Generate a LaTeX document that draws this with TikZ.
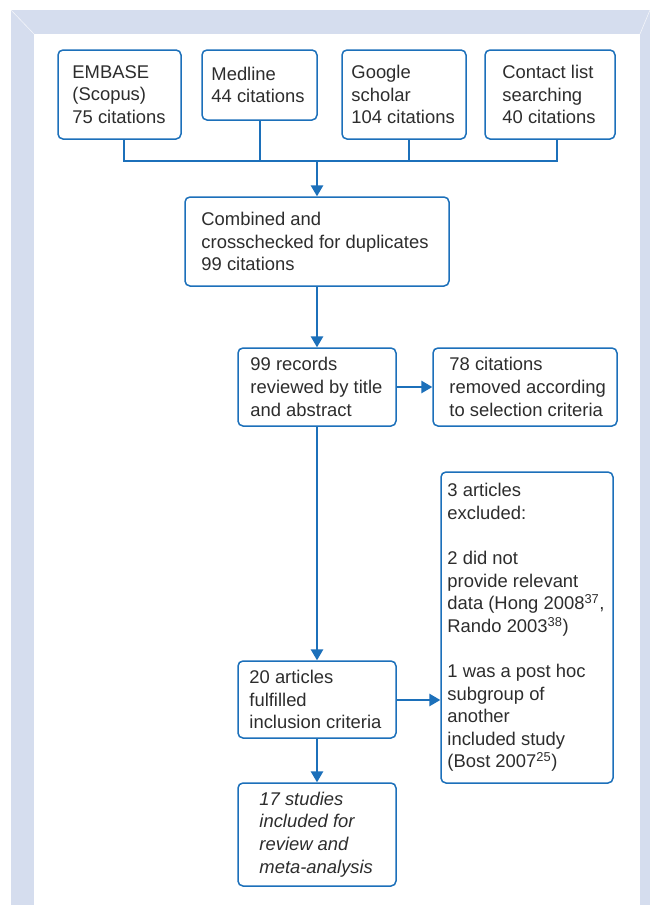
\documentclass[tikz,border=0pt]{standalone}
\usepackage{fontspec}
\setmainfont{Liberation Sans}
\usetikzlibrary{arrows.meta,calc}
\definecolor{lineblue}{RGB}{28,112,186}
\definecolor{framebg}{RGB}{213,221,238}
\definecolor{txt}{RGB}{45,45,45}
\begin{document}
\begin{tikzpicture}[x=1pt,y=-1pt,
  box/.style={draw=lineblue,line width=1.5pt,rounded corners=5pt,fill=white,inner sep=0pt},
  label/.style={anchor=west,align=left,inner sep=0pt,text=txt,font=\fontsize{18.4}{22.6}\selectfont},
  conn/.style={draw=lineblue,line width=1.5pt},
  arr/.style={conn,-{Triangle[length=11pt,width=12.5pt]}}]
\useasboundingbox (0,0) rectangle (650,905);
% frame
\fill[framebg] (11,10) rectangle (650,905);
\fill[white] (34,34) rectangle (640,905);
\draw[white!70!framebg,line width=0.6pt] (11,10) -- (34,34);
\draw[white!70!framebg,line width=0.6pt] (650,10) -- (640,34);
% boxes
\node[box,minimum width=123pt,minimum height=89pt] (embase) at (119.5,94.5) {};
\node[box,minimum width=115pt,minimum height=70pt] (medline) at (259.5,85) {};
\node[box,minimum width=124pt,minimum height=89pt] (google) at (404,94.5) {};
\node[box,minimum width=130pt,minimum height=89pt] (contact) at (550,94.5) {};
\node[box,minimum width=264pt,minimum height=89pt] (combined) at (317,241.5) {};
\node[box,minimum width=158pt,minimum height=78pt] (records) at (317,387) {};
\node[box,minimum width=184pt,minimum height=78pt] (removed) at (525,387) {};
\node[box,minimum width=172pt,minimum height=311pt] (excluded) at (527,627.5) {};
\node[box,minimum width=158pt,minimum height=77pt] (fulfilled) at (317,699.5) {};
\node[box,minimum width=158pt,minimum height=103pt] (studies) at (317,834.5) {};
% texts
\node[label] (embaseT) at ([xshift=15pt]embase.west) {EMBASE\\(Scopus)\\75 citations};
\node[label] (medlineT) at ([xshift=10pt]medline.west) {Medline\\44 citations};
\node[label] (googleT) at ([xshift=10pt]google.west) {Google\\scholar\\104 citations};
\node[label] (contactT) at ([xshift=18pt]contact.west) {Contact list\\searching\\40 citations};
\node[label] (combinedT) at ([xshift=17pt]combined.west) {Combined and\\crosschecked for duplicates\\99 citations};
\node[label] (recordsT) at ([xshift=13pt]records.west) {99 records\\reviewed by title\\and abstract};
\node[label] (removedT) at ([xshift=17pt]removed.west) {78 citations\\removed according\\to selection criteria};
\node[label] (excludedT) at ([xshift=7pt]excluded.west) {3 articles\\excluded:\\[22.6pt]2 did not\\provide relevant\\data (Hong 2008\textsuperscript{37},\\Rando 2003\textsuperscript{38})\\[22.6pt]1 was a post hoc\\subgroup of\\another\\included study\\(Bost 2007\textsuperscript{25})};
\node[label] (fulfilledT) at ([xshift=12pt]fulfilled.west) {20 articles\\fulfilled\\inclusion criteria};
\node[label,font=\fontsize{18.4}{22.6}\selectfont\itshape] (studiesT) at ([xshift=22pt]studies.west) {17 studies\\included for\\review and\\meta-analysis};
% connectors
\coordinate (bus) at (317,161);
\draw[conn] ([xshift=4.5pt]embase.south) |- (bus);
\draw[conn] ([xshift=0.5pt]medline.south) |- (bus);
\draw[conn] ([xshift=5pt]google.south) |- (bus);
\draw[conn] ([xshift=7pt]contact.south) |- (bus);
\draw[arr] (bus) -- (combined.north);
\draw[arr] (combined.south) -- (records.north);
\draw[arr] (records.east) -- (removed.west);
\draw[arr] (records.south) -- (fulfilled.north);
\draw[arr] ([yshift=-0.5pt]fulfilled.east) -- ([yshift=-0.5pt]fulfilled.east -| excluded.west);
\draw[arr] (fulfilled.south) -- (studies.north);
\end{tikzpicture}
\end{document}
